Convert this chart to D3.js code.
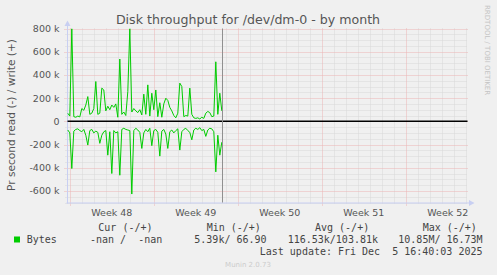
<!DOCTYPE html>
<html>
<head>
<meta charset="utf-8">
<script src="https://cdn.jsdelivr.net/npm/d3@7"></script>
<style>
body { margin: 0; background: #f0f0f0; }
svg { display: block; }
text { font-family: "DejaVu Sans", sans-serif; }
.mono { font-family: "DejaVu Sans Mono", monospace; white-space: pre; }
</style>
</head>
<body>
<div id="chart"></div>
<script>
// bytes per second, in thousands, 4-hour samples
const writeK = [69, 45, 797, 40, 35, 45, 38, 110, 95, 140, 213, 60, 70, 110, 343, 60, 70, 286, 270, 90,
  130, 100, 140, 120, 150, 35, 537, 60, 80, 50, 256, 797, 80, 110, 90, 75, 100, 55, 234, 60,
  314, 45, 242, 100, 270, 40, 160, 35, 150, 199, 180, 120, 90, 50, 30, 70, 329, 300, 40, 50,
  45, 286, 60, 30, 25, 30, 20, 35, 25, 70, 85, 75, 40, 45, 513, 60, 242, 90];
const readK = [75, 100, 407, 85, 70, 65, 80, 90, 70, 120, 205, 80, 70, 100, 85, 95, 190, 120, 90, 80,
  292, 90, 450, 80, 100, 90, 465, 70, 60, 70, 75, 80, 627, 80, 60, 75, 95, 234, 100, 70,
  90, 60, 210, 80, 70, 95, 300, 85, 70, 110, 234, 90, 75, 100, 80, 65, 248, 90, 70, 60,
  80, 95, 160, 75, 60, 70, 55, 80, 70, 130, 75, 60, 65, 90, 436, 120, 292, 180];
const seriesStart = Date.UTC(2025, 10, 22, 20, 0);
const stepMs = 4 * 3600 * 1000;
const lastUpdate = Date.UTC(2025, 11, 5, 16, 40, 3);

const weekLabels = ["Week 48", "Week 49", "Week 50", "Week 51", "Week 52"];
const weekStarts = [Date.UTC(2025, 10, 23), Date.UTC(2025, 10, 30), Date.UTC(2025, 11, 7),
  Date.UTC(2025, 11, 14), Date.UTC(2025, 11, 21)];

const legendHeaders = ["Cur (-/+)", "Min (-/+)", "Avg (-/+)", "Max (-/+)"];
const legendValues = ["-nan /  -nan", "5.39k/ 66.90", "116.53k/103.81k", "10.85M/ 16.73M"];

const width = 497, height = 275;
const green = "#00cc00";

const svg = d3.select("#chart").append("svg")
  .attr("width", width)
  .attr("height", height);

svg.append("rect").attr("width", width).attr("height", height).attr("fill", "#f0f0f0");

const dayMs = 24 * 3600 * 1000;
const x0 = Date.UTC(2025, 10, 22, 19, 24);
const xScale = d3.scaleUtc()
  .domain([new Date(x0), new Date(x0 + 400 / 12 * dayMs)])
  .range([67.5, 467.5]);

const yScale = d3.scaleLinear()
  .domain([-700000, 800000])
  .range([202.5, 28.5]);

const pLeft = 67.5, pRight = 467.5, pTop = 28.5, pBottom = 202.5;

// minor grid
const grid = svg.append("g");
d3.range(-700000, 800001, 50000).filter(v => v % 200000 !== 0).forEach(v => {
  grid.append("line")
    .attr("x1", pLeft - 2).attr("x2", pRight)
    .attr("y1", Math.round(yScale(v)) + 0.5).attr("y2", Math.round(yScale(v)) + 0.5)
    .attr("stroke", "#d8d8d8").attr("stroke-dasharray", "1,1");
});
const days = d3.utcDay.range(xScale.domain()[0], xScale.domain()[1]);
days.filter(d => d.getUTCDay() !== 0).forEach(d => {
  const px = Math.round(xScale(d)) + 0.5;
  grid.append("line")
    .attr("x1", px).attr("x2", px)
    .attr("y1", pTop).attr("y2", pBottom + 2)
    .attr("stroke", "#d8d8d8").attr("stroke-dasharray", "1,1");
});
// major grid
d3.range(-600000, 800001, 200000).forEach(v => {
  grid.append("line")
    .attr("x1", pLeft - 3).attr("x2", pRight)
    .attr("y1", Math.round(yScale(v)) + 0.5).attr("y2", Math.round(yScale(v)) + 0.5)
    .attr("stroke", "#ecb4b4").attr("stroke-dasharray", "1,1");
});
weekStarts.forEach(d => {
  const px = Math.round(xScale(d)) + 0.5;
  grid.append("line")
    .attr("x1", px).attr("x2", px)
    .attr("y1", pTop).attr("y2", pBottom + 3)
    .attr("stroke", "#ecb4b4").attr("stroke-dasharray", "1,1");
});

// axes lines + arrows
const axisColor = "#c8cff2";
svg.append("line").attr("x1", pLeft).attr("x2", pLeft).attr("y1", pBottom + 1).attr("y2", 24)
  .attr("stroke", axisColor);
svg.append("line").attr("x1", pLeft - 1).attr("x2", pRight + 2).attr("y1", pBottom + 0.5).attr("y2", pBottom + 0.5)
  .attr("stroke", axisColor);
svg.append("path").attr("d", `M${pLeft - 3},26 L${pLeft},20.5 L${pLeft + 3},26 Z`).attr("fill", axisColor);
svg.append("path").attr("d", `M469,${pBottom - 2.5} L474.5,${pBottom + 0.5} L469,${pBottom + 3.5} Z`).attr("fill", axisColor);

// y tick labels
svg.append("g")
  .attr("transform", `translate(${pLeft},0)`)
  .call(d3.axisLeft(yScale)
    .tickValues(d3.range(-600000, 800001, 200000))
    .tickSize(0)
    .tickPadding(8)
    .tickFormat(v => v === 0 ? "0" : `${v / 1000} k`))
  .call(g => g.select(".domain").remove())
  .call(g => g.selectAll("text")
    .attr("fill", "#555")
    .style("font-family", "DejaVu Sans, sans-serif")
    .style("font-size", "9.5px"));

// week labels
svg.append("g").selectAll("text")
  .data(weekLabels)
  .enter().append("text")
    .attr("x", (d, i) => xScale(weekStarts[i] + 3.5 * dayMs))
    .attr("y", 216)
    .attr("text-anchor", "middle")
    .attr("fill", "#555")
    .style("font-size", "9.5px")
    .text(d => d);

// data lines
const writeLine = d3.line()
  .x((d, i) => xScale(seriesStart + i * stepMs))
  .y(d => yScale(d * 1000));
const readLine = d3.line()
  .x((d, i) => xScale(seriesStart + i * stepMs))
  .y(d => yScale(-d * 1000));

svg.append("path").datum(writeK).attr("d", writeLine)
  .attr("fill", "none").attr("stroke", green).attr("stroke-width", 1);
svg.append("path").datum(readK).attr("d", readLine)
  .attr("fill", "none").attr("stroke", green).attr("stroke-width", 1);

// zero line
svg.append("line")
  .attr("x1", pLeft).attr("x2", pRight)
  .attr("y1", yScale(0)).attr("y2", yScale(0))
  .attr("stroke", "#000").attr("stroke-width", 1.5);

// last update marker
const lx = Math.round(xScale(lastUpdate)) + 0.5;
svg.append("line").attr("x1", lx).attr("x2", lx).attr("y1", pTop).attr("y2", pBottom)
  .attr("stroke", "#909090");

// title
svg.append("text")
  .attr("x", 248).attr("y", 24)
  .attr("text-anchor", "middle")
  .attr("fill", "#555")
  .style("font-size", "12.6px")
  .text("Disk throughput for /dev/dm-0 - by month");

// y axis title
svg.append("text")
  .attr("transform", "translate(15,115) rotate(-90)")
  .attr("text-anchor", "middle")
  .attr("fill", "#555")
  .style("font-size", "10.6px")
  .text("Pr second read (-) / write (+)");

// rrdtool watermark
svg.append("text")
  .attr("transform", "translate(485,5) rotate(90)")
  .attr("fill", "#c4c4c4")
  .style("font-size", "7px")
  .text("RRDTOOL / TOBI OETIKER");

// legend
const headerX = [98.3, 206.7, 315, 422.7];
const valueX = [90, 194.3, 287.7, 398.3];
const legend = svg.append("g").attr("fill", "#444").style("font-size", "10px");
legend.selectAll(".hdr").data(legendHeaders).enter().append("text")
  .attr("class", "mono hdr")
  .attr("x", (d, i) => headerX[i]).attr("y", 231)
  .text(d => d);
legend.append("rect").attr("x", 14).attr("y", 236.5).attr("width", 6).attr("height", 6).attr("fill", green);
legend.append("text").attr("class", "mono").attr("x", 26.7).attr("y", 243).text("Bytes");
legend.selectAll(".val").data(legendValues).enter().append("text")
  .attr("class", "mono val")
  .attr("x", (d, i) => valueX[i]).attr("y", 243)
  .text(d => d);
legend.append("text").attr("class", "mono")
  .attr("x", 482.5).attr("y", 255)
  .attr("text-anchor", "end")
  .text("Last update: Fri Dec  5 16:40:03 2025");

svg.append("text")
  .attr("x", 248).attr("y", 267)
  .attr("text-anchor", "middle")
  .attr("fill", "#cccccc")
  .style("font-size", "7px")
  .text("Munin 2.0.73");
</script>
</body>
</html>
